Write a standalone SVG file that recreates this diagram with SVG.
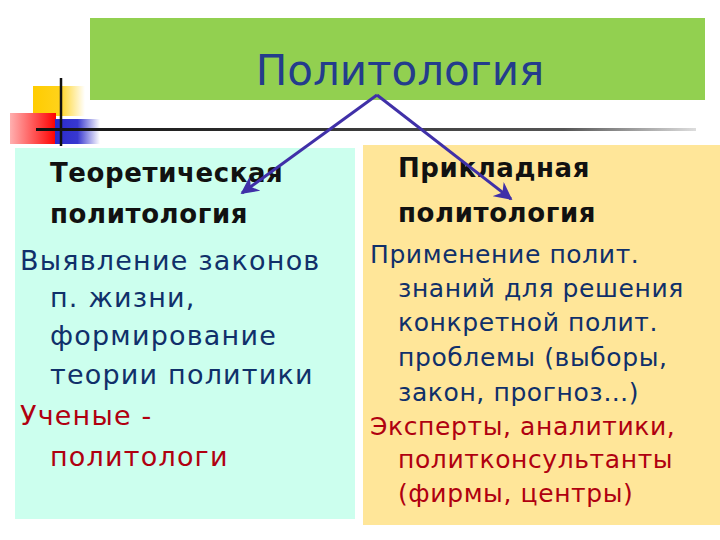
<svg xmlns="http://www.w3.org/2000/svg" width="720" height="540" viewBox="0 0 720 540">
<defs>
<linearGradient id="gY" x1="0" y1="0" x2="1" y2="0"><stop offset="0" stop-color="#FFCC00"/><stop offset="0.5" stop-color="#FFD21A"/><stop offset="1" stop-color="#FFFFFF"/></linearGradient>
<linearGradient id="gR" x1="0" y1="0" x2="1" y2="0"><stop offset="0" stop-color="#FFB0B0"/><stop offset="1" stop-color="#FF0000"/></linearGradient>
<linearGradient id="gB" x1="0" y1="0" x2="1" y2="0"><stop offset="0" stop-color="#2A2ACC"/><stop offset="0.5" stop-color="#3838D0"/><stop offset="1" stop-color="#FFFFFF"/></linearGradient>
<linearGradient id="gL" x1="0" y1="0" x2="1" y2="0"><stop offset="0" stop-color="#111111"/><stop offset="0.8" stop-color="#555555"/><stop offset="1" stop-color="#DDDDDD"/></linearGradient>
<marker id="ah" viewBox="0 0 10 10" refX="9" refY="5" markerWidth="6" markerHeight="6" orient="auto" markerUnits="strokeWidth"><path d="M0,0 L10,5 L0,10 L3,5 Z" fill="#4030A8"/></marker>
</defs>
<style>
text{font-family:"DejaVu Sans","Noto Sans",sans-serif;}
.h{font-size:26px;font-weight:bold;fill:#111;letter-spacing:0.6px;}
.b{font-size:27px;fill:#10306A;letter-spacing:1.2px;}
.r{font-size:27px;fill:#B00010;letter-spacing:1.2px;}
.b2{font-size:25px;fill:#10306A;letter-spacing:0.6px;}
.r2{font-size:25px;fill:#B00010;letter-spacing:0.6px;}
.c{stroke:#4030A8;stroke-width:3;fill:none;marker-end:url(#ah);}
</style>
<rect width="720" height="540" fill="#FFFFFF"/>
<g id="decor">
<rect x="33" y="86" width="52" height="30" fill="url(#gY)"/>
<rect x="10" y="113" width="46" height="31" fill="url(#gR)"/>
<rect x="55" y="119" width="45" height="25" fill="url(#gB)"/>
<line x1="61" y1="78" x2="61" y2="146" stroke="#111" stroke-width="2.5"/>
<rect x="36" y="128" width="660" height="3" fill="url(#gL)"/>
</g>
<g id="title">
<rect x="90" y="18" width="615" height="82" fill="#92D050"/>
<text x="400" y="85" text-anchor="middle" font-size="42" fill="#243C8C">Политология</text>
</g>
<g id="theory">
<rect x="15" y="148" width="340" height="371" fill="#CCFFEE"/>
<text class="h" x="50" y="182">Теоретическая</text>
<text class="h" x="50" y="223">политология</text>
<text class="b" x="20" y="270">Выявление законов</text>
<text class="b" x="50" y="307">п. жизни,</text>
<text class="b" x="50" y="345">формирование</text>
<text class="b" x="50" y="384">теории политики</text>
<text class="r" x="20" y="425">Ученые -</text>
<text class="r" x="50" y="466">политологи</text>
</g>
<g id="applied">
<rect x="363" y="145" width="357" height="380" fill="#FFE699"/>
<text class="h" x="398" y="177">Прикладная</text>
<text class="h" x="398" y="222">политология</text>
<text class="b2" x="370" y="263">Применение полит.</text>
<text class="b2" x="398" y="297">знаний для решения</text>
<text class="b2" x="398" y="331">конкретной полит.</text>
<text class="b2" x="398" y="366">проблемы (выборы,</text>
<text class="b2" x="398" y="401">закон, прогноз…)</text>
<text class="r2" x="370" y="435">Эксперты, аналитики,</text>
<text class="r2" x="398" y="468">политконсультанты</text>
<text class="r2" x="398" y="502">(фирмы, центры)</text>
</g>
<g id="connectors">
<path class="c" d="M377,95 L242,193"/>
<path class="c" d="M377,95 L511,199"/>
</g>
</svg>
